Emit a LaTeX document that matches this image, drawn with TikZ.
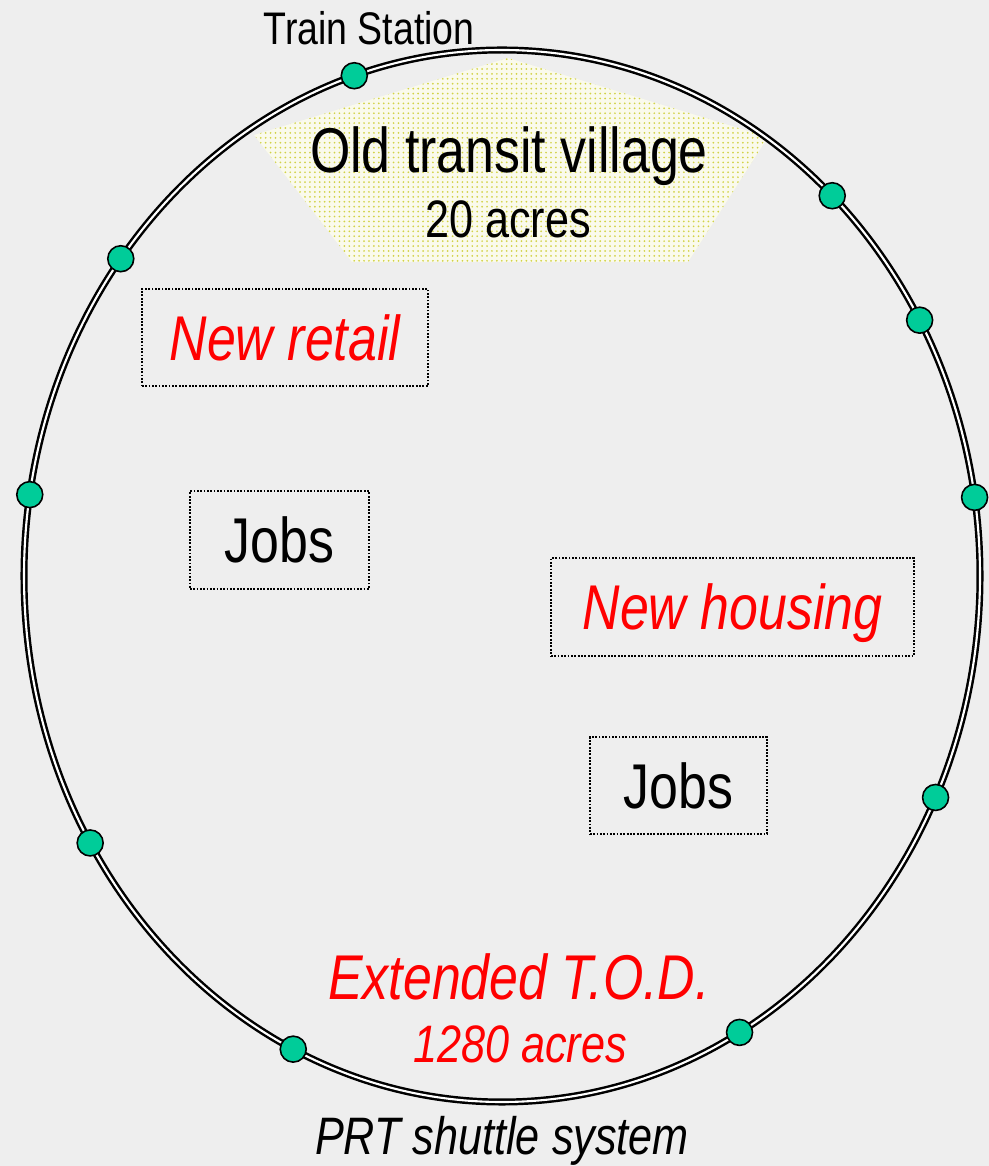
\documentclass[tikz,border=0pt]{standalone}
\usepackage{fontspec}
\setmainfont{Liberation Sans}[FakeStretch=0.82]
\usetikzlibrary{patterns}
\definecolor{bggray}{RGB}{238,238,238}
\definecolor{stopgreen}{RGB}{0,204,153}
\definecolor{villfill}{RGB}{250,250,236}
\definecolor{villdot}{RGB}{210,210,70}
\pgfdeclarepatternformonly{villdots}{\pgfpoint{-1pt}{-1pt}}{\pgfpoint{1pt}{1pt}}{\pgfpoint{2.8pt}{2.8pt}}%
  {\pgfpathcircle{\pgfpointorigin}{0.55pt}\pgfusepath{fill}}
\begin{document}
\begin{tikzpicture}[x=0.02cm,y=0.02cm,
    areabox/.style={draw,line width=1pt,dash pattern=on 1pt off 0.9pt,inner sep=0pt,text depth=0pt},
    stop/.style={circle,draw,fill=stopgreen,line width=0.9pt,minimum size=0.52cm,inner sep=0pt},
    bigtxt/.style={font=\fontsize{36}{40}\selectfont},
    midtxt/.style={font=\fontsize{30}{34}\selectfont},
    midit/.style={font=\fontsize{30}{34}\selectfont\itshape},
    newtxt/.style={text=red,font=\fontsize{36}{40}\selectfont\itshape}]
  \useasboundingbox (0,0) rectangle (989,1166);
  \fill [bggray] (0,0) rectangle (989,1166);
  % old village
  \fill [villfill] (508,1108) -- (768,1029) -- (688,904) -- (352,904) -- (254,1031) -- cycle;
  \fill [pattern=villdots, pattern color=villdot] (508,1108) -- (768,1029) -- (688,904) -- (352,904) -- (254,1031) -- cycle;
  % PRT loop
  \coordinate (hub) at (502,590);
  \draw [double=white, line width=1.4pt, double distance=1.2pt] (hub) ellipse [x radius=478, y radius=526];
  \begin{scope}[shift={(hub)}]
    \foreach \a [count=\i] in {108,46.3,29.1,8.6,-24.9,-60.2,244.1,210.5,171.1,142.9}
      \node [stop] (s\i) at (\a:478 and 526) {};
  \end{scope}
  \node [anchor=base, font=\fontsize{26}{30}\selectfont] (station) at (369,1121) {Train Station};
  \node [anchor=base, bigtxt] (village) at (509,993) {Old transit village};
  \node [anchor=base, midtxt] (villacres) at (508,928) {20 acres};
  % new areas
  \node [areabox, newtxt, minimum width=5.72cm, minimum height=1.94cm] (retail) at (285,828.5) {New retail};
  \node [areabox, bigtxt, minimum width=3.58cm, minimum height=1.96cm] (jobsa) at (279.5,626) {Jobs};
  \node [areabox, newtxt, minimum width=7.26cm, minimum height=1.96cm] (housing) at (732.5,559) {New housing};
  \node [areabox, bigtxt, minimum width=3.54cm, minimum height=1.94cm] (jobsb) at (678.5,380.5) {Jobs};
  \node [anchor=base, newtxt] (tod) at (519,166) {Extended T.O.D.};
  \node [anchor=base, midit, text=red] (todacres) at (520,103) {1280 acres};
  \node [anchor=base, midit] (prt) at (502,11) {PRT shuttle system};
\end{tikzpicture}
\end{document}
